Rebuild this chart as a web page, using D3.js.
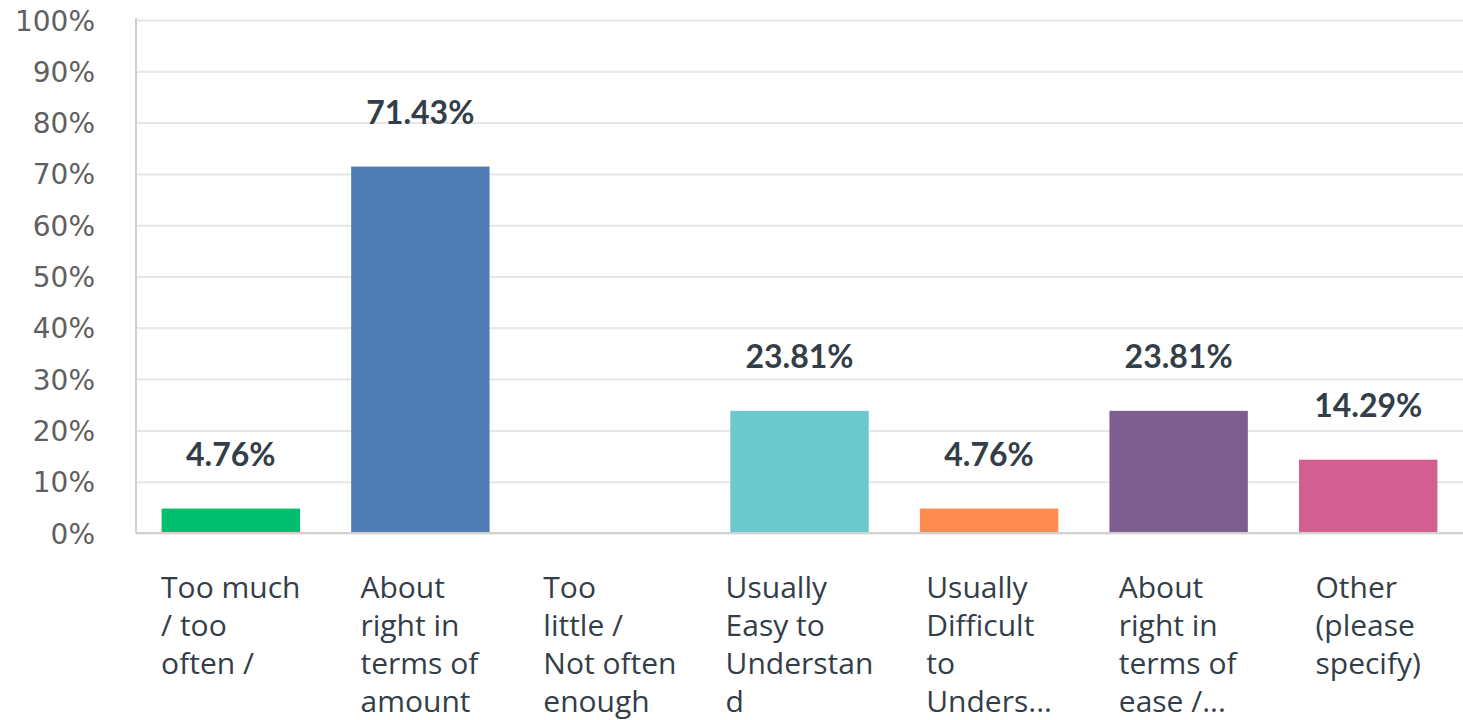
<!DOCTYPE html>
<html>
<head>
<meta charset="utf-8">
<script src="https://cdn.jsdelivr.net/npm/d3@7"></script>
<style>
  body { margin: 0; background: #fff; }
</style>
</head>
<body>
<div id="viz"></div>
<script>
const categories = ["Too much / too often /", "About right in terms of amount", "Too little / Not often enough",
                    "Usually Easy to Understand", "Usually Difficult to Unders...", "About right in terms of ease /...",
                    "Other (please specify)"]
const labelLines = [["Too much", "/ too", "often /"],
                    ["About", "right in", "terms of", "amount"],
                    ["Too", "little /", "Not often", "enough"],
                    ["Usually", "Easy to", "Understan", "d"],
                    ["Usually", "Difficult", "to", "Unders..."],
                    ["About", "right in", "terms of", "ease /..."],
                    ["Other", "(please", "specify)"]]
const values = [4.76, 71.43, 0, 23.81, 4.76, 23.81, 14.29]
const colors = ["#00bf6f", "#507cb6", "#f9be00", "#6bc8cd", "#ff8b4f", "#7d5e90", "#d25f90"]
const yTicks = [0, 10, 20, 30, 40, 50, 60, 70, 80, 90, 100]

const width = 1463
const height = 720
const margin = {top: 20, right: 0, bottom: 187, left: 136}

const dataset = categories.map((c, i) => ({cat: c, value: values[i], color: colors[i], lines: labelLines[i]}))

const svg = d3.select("#viz")
              .append("svg")
              .attr("width", width)
              .attr("height", height)

const xScale = d3.scaleBand()
                 .domain(categories)
                 .range([margin.left, width - margin.right])
                 .paddingInner(0.27)
                 .paddingOuter(0.135)

const yScale = d3.scaleLinear()
                 .domain([0, 100])
                 .range([height - margin.bottom, margin.top])

// gridlines + y labels
const yAxis = d3.axisLeft(yScale)
                .tickValues(yTicks)
                .tickSize(-(width - margin.left - margin.right))
                .tickPadding(41)
                .tickFormat(d => d + "%")

const yg = svg.append("g")
              .attr("transform", `translate(${margin.left},0)`)
              .call(yAxis)
yg.select(".domain").remove()
yg.selectAll(".tick line").attr("stroke", "#e6e6e6").attr("stroke-width", 2)
yg.selectAll(".tick text")
  .attr("fill", "#5f5f5f")
  .style("font-family", "'DejaVu Sans', sans-serif")
  .style("font-size", "28px")
  .attr("dy", "0.36em")

// axis frame
svg.append("line")
   .attr("x1", margin.left).attr("x2", margin.left)
   .attr("y1", yScale(100) - 2).attr("y2", yScale(0))
   .attr("stroke", "#d0d0d0").attr("stroke-width", 2)
svg.append("line")
   .attr("x1", margin.left).attr("x2", width)
   .attr("y1", yScale(0)).attr("y2", yScale(0))
   .attr("stroke", "#d0d0d0").attr("stroke-width", 2)

// bars
svg.append("g")
   .selectAll("rect")
   .data(dataset)
   .join("rect")
   .attr("x", d => xScale(d.cat))
   .attr("y", d => yScale(d.value))
   .attr("width", xScale.bandwidth())
   .attr("height", d => Math.max(0, yScale(0) - yScale(d.value) - 1))
   .attr("fill", d => d.color)

// value labels
svg.append("g")
   .selectAll("text")
   .data(dataset.filter(d => d.value > 0))
   .join("text")
   .attr("x", d => xScale(d.cat) + xScale.bandwidth() / 2)
   .attr("y", d => yScale(d.value) - 43)
   .attr("text-anchor", "middle")
   .attr("fill", "#333e48")
   .style("font-family", "Lato, 'Open Sans', sans-serif")
   .style("font-weight", "bold")
   .style("font-size", "32px")
   .text(d => d.value.toFixed(2) + "%")

// category labels: left aligned lines, block centred in the band
const catG = svg.append("g")
                .selectAll("text")
                .data(dataset)
                .join("text")
                .attr("x", 0)
                .attr("y", 598)
                .attr("fill", "#333e48")
                .style("font-family", "'Open Sans', sans-serif")
                .style("font-size", "30px")

catG.selectAll("tspan")
    .data(d => d.lines)
    .join("tspan")
    .attr("x", 0)
    .attr("dy", (d, j) => j === 0 ? 0 : 38)
    .text(d => d)

catG.each(function (d) {
    const w = this.getBBox().width
    const x = xScale(d.cat) + xScale.bandwidth() / 2 - w / 2
    d3.select(this).attr("x", x).selectAll("tspan").attr("x", x)
})
</script>
</body>
</html>
